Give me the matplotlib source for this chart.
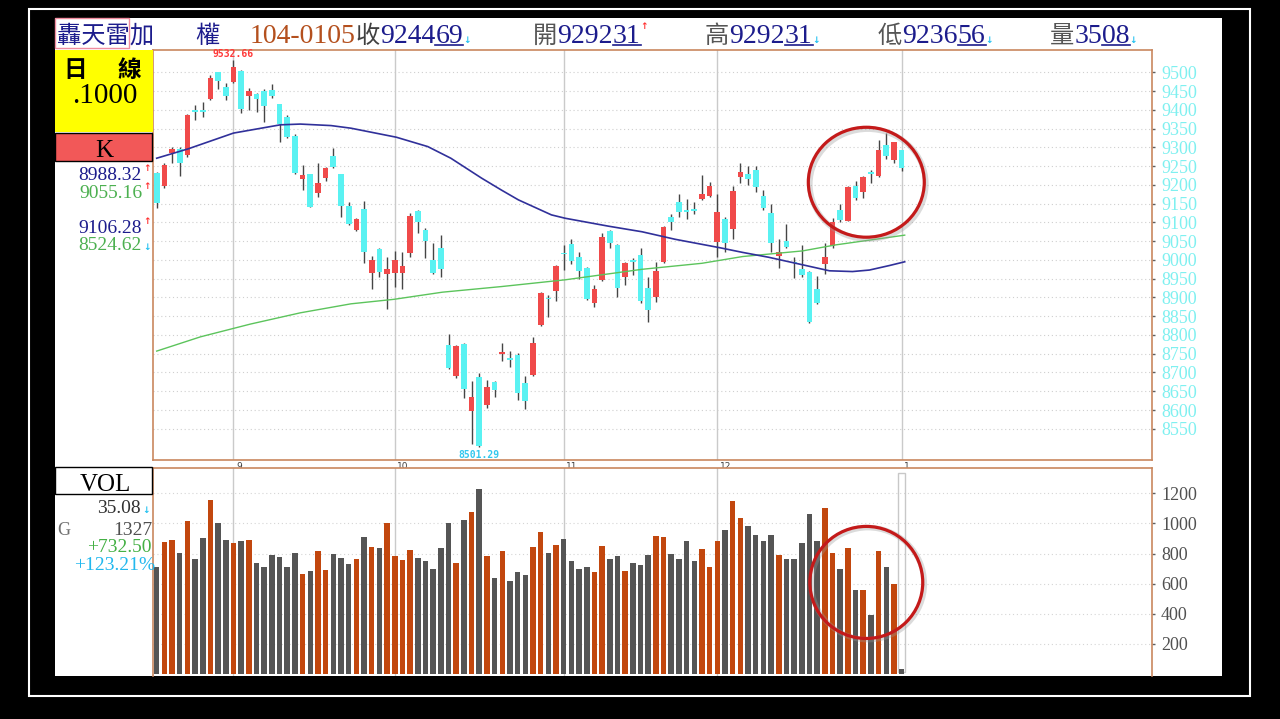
import matplotlib
matplotlib.use('Agg')
import matplotlib.pyplot as plt
from matplotlib.patches import Rectangle, Ellipse
from matplotlib.lines import Line2D
import numpy as np

# ---------------- data ----------------
opens = [9231, 9197, 9284, 9295, 9280, 9398, 9397, 9428, 9500, 9460,
         9475, 9503, 9437, 9442, 9451, 9453, 9415, 9382, 9330, 9215,
         9228, 9179, 9218, 9277, 9229, 9144, 9080, 9136, 8966, 9029,
         8962, 8966, 8966, 9018, 9130, 9080, 9000, 9031, 8773, 8691,
         8775, 8598, 8689, 8613, 8675, 8749, 8737, 8747, 8673, 8693,
         8827, 8898, 8917, 9018, 9042, 9009, 8978, 8886, 8946, 9077,
         9040, 8955, 8998, 9013, 8924, 8902, 8994, 9114, 9155, 9132,
         9134, 9162, 9170, 9049, 9109, 9082, 9222, 9228, 9240, 9170,
         9124, 9011, 9051, 8994, 8975, 8969, 8922, 8989, 9037, 9133,
         9105, 9197, 9180, 9232, 9224, 9306, 9266, 9292.31]
highs = [9235, 9258, 9302, 9300, 9388, 9413, 9422, 9493, 9502, 9472,
         9532.66, 9505, 9457, 9444, 9455, 9468, 9416, 9386, 9335, 9253,
         9230, 9259, 9248, 9297, 9230, 9155, 9112, 9158, 9010, 9032,
         9009, 9024, 9020, 9126, 9132, 9084, 9046, 9066, 8802, 8774,
         8778, 8677, 8698, 8680, 8677, 8779, 8758, 8753, 8691, 8794,
         8915, 8907, 8986, 9040, 9055, 9022, 8980, 8933, 9071, 9080,
         9042, 8995, 9006, 9033, 8954, 8995, 9090, 9122, 9176, 9162,
         9155, 9226, 9208, 9175, 9115, 9197, 9259, 9249, 9249, 9185,
         9148, 9055, 9095, 9007, 9040, 8970, 8957, 9044, 9111, 9148,
         9197, 9209, 9224, 9240, 9320, 9337, 9315, 9292.31]
lows = [9138, 9192, 9257, 9224, 9275, 9373, 9382, 9425, 9455, 9426,
        9472, 9391, 9400, 9395, 9368, 9431, 9315, 9325, 9228, 9186,
        9140, 9168, 9210, 9245, 9115, 9093, 9077, 8991, 8922, 8955,
        8868, 8927, 8922, 9009, 9072, 9004, 8963, 8955, 8708, 8684,
        8633, 8510, 8501.29, 8606, 8635, 8731, 8715, 8627, 8602, 8690,
        8825, 8849, 8891, 8973, 8988, 8948, 8893, 8874, 8944, 9031,
        8900, 8933, 8960, 8884, 8834, 8887, 8992, 9080, 9115, 9108,
        9122, 9160, 9168, 9009, 9020, 9055, 9204, 9200, 9182, 9133,
        9022, 8979, 9031, 8951, 8955, 8831, 8882, 8963, 9033, 9102,
        9103, 9160, 9166, 9206, 9222, 9268, 9259, 9236.56]
closes = [9151, 9253, 9296, 9259, 9386, 9395, 9396, 9486, 9478, 9437,
          9513, 9401, 9451, 9429, 9410, 9437, 9362, 9328, 9231, 9226,
          9142, 9204, 9246, 9247, 9144, 9095, 9109, 9020, 9000, 8969,
          8977, 9000, 8984, 9117, 9102, 9051, 8966, 8975, 8711, 8771,
          8655, 8634, 8505, 8662, 8653, 8754, 8734, 8645, 8625, 8778,
          8913, 8897, 8984, 9017, 8997, 8971, 8896, 8922, 9060, 9044,
          8926, 8991, 8996, 8891, 8867, 8971, 9088, 9102, 9128, 9130,
          9132, 9175, 9197, 9127, 9044, 9184, 9233, 9215, 9195, 9138,
          9044, 9021, 9035, 8993, 8960, 8834, 8884, 9009, 9102, 9106,
          9195, 9164, 9222, 9230, 9293, 9277, 9313, 9244.69]
volumes = [712, 874, 890, 806, 1016, 761, 901, 1155, 1005, 890,
           868, 883, 890, 735, 712, 790, 779, 712, 806, 664,
           686, 817, 691, 795, 772, 730, 766, 912, 841, 835,
           1005, 784, 757, 823, 768, 750, 697, 839, 1005, 735,
           1023, 1078, 1226, 784, 635, 817, 620, 675, 657, 841,
           943, 801, 857, 896, 750, 697, 708, 679, 850, 766,
           784, 686, 737, 726, 788, 918, 908, 795, 766, 881,
           750, 828, 708, 885, 954, 1151, 1038, 981, 925, 881,
           925, 788, 766, 761, 870, 1062, 881, 1100, 806, 695,
           839, 558, 558, 392, 817, 712, 598, 35.08]

ma_blue_x = [0, 4.1, 10, 16.1, 18.7, 22.7, 25.3, 31.2, 35.3, 38.3, 42.3, 44.9,
             47.1, 51.4, 53.2, 58.8, 63.2, 67.5, 73.2, 76.3, 79.7, 84.1, 87.6,
             90.6, 92.8, 95.4, 97.4]
ma_blue_y = [9271, 9296, 9338, 9360, 9362, 9358, 9351, 9327, 9302, 9271, 9218, 9186,
             9160, 9120, 9111, 9090, 9075, 9055, 9033, 9020, 9007, 8987, 8971,
             8969, 8973, 8985, 8995]
ma_green_x = [0, 5.7, 12.2, 18.7, 25.3, 30.9, 37.2, 44.9, 53.2, 63.2, 71, 76.3, 84.1, 88.4, 97.4]
ma_green_y = [8757, 8795, 8829, 8859, 8883, 8895, 8914, 8929, 8947, 8975, 8991, 9009, 9024, 9040, 9066]

month_idx = [10, 31, 53, 73, 97]
month_labels = ['9', '10', '11', '12', '1']
price_ticks = list(range(8550, 9501, 50))
vol_ticks = [200, 400, 600, 800, 1000, 1200]

# ---------------- figure ----------------
W, H = 1280, 719
fig = plt.figure(figsize=(12.8, 7.19), dpi=100, facecolor='black')


def fx(x):
    return x / W


def fy(y):
    return 1 - y / H


SERIF = ['Liberation Serif', 'Noto Sans CJK TC', 'DejaVu Sans']
CJK = ['Noto Sans CJK TC', 'DejaVu Sans']

# outer frame and white content area
fig.add_artist(Rectangle((fx(29), fy(696)), (1250 - 29) / W, (696 - 9) / H,
                         transform=fig.transFigure, fill=False, edgecolor='white',
                         lw=1.5, zorder=-20))
fig.add_artist(Rectangle((fx(55), fy(676)), (1222 - 55) / W, (676 - 18) / H,
                         transform=fig.transFigure, facecolor='white', edgecolor='none',
                         zorder=-10))

SPINE = '#C9875F'
n = len(opens)
idx = np.arange(n)
XLIM = (-0.48, 129.6)

# ---------------- price panel ----------------
ax = fig.add_axes([fx(153), fy(460), (1152 - 153) / W, (460 - 50) / H])
ax.set_facecolor('white')
ax.set_xlim(*XLIM)
ax.set_ylim(8466.8, 9559.4)
for s in ax.spines.values():
    s.set_color(SPINE)
    s.set_linewidth(1.2)
ax.set_xticks([])
ax.yaxis.tick_right()
ax.set_yticks(price_ticks)
ax.set_yticklabels([str(p) for p in price_ticks])
ax.tick_params(axis='y', color='#606060', labelcolor='#7FF0F0', length=2.5,
               width=1, pad=4, labelsize=13)
for lbl in ax.get_yticklabels():
    lbl.set_family(SERIF)
for p in price_ticks:
    ax.axhline(p, color='#CFCFCF', lw=0.8, ls=(0, (1, 2.5)), zorder=0.5)
for m in month_idx:
    ax.axvline(m, color='#CACACA', lw=1, zorder=0.6)

o = np.array(opens, float)
h = np.array(highs, float)
l = np.array(lows, float)
c = np.array(closes, float)
up = c >= o
RED = '#F04A4A'
CYAN = '#5AF2F2'
body_col = [RED if u else CYAN for u in up]
ax.vlines(idx, l, h, color='#454545', lw=1, zorder=2)
lo = np.minimum(o, c)
hi = np.maximum(o, c)
ht = np.maximum(hi - lo, 4)
ax.bar(idx, ht, bottom=lo - (ht - (hi - lo)) / 2, width=0.74, color=body_col,
       edgecolor='none', zorder=3)

ax.plot(ma_green_x, ma_green_y, color='#5CC45C', lw=1.0, zorder=4)
ax.plot(ma_blue_x, ma_blue_y, color='#30309A', lw=1.2, zorder=4)

imax = int(np.argmax(h))
imin = int(np.argmin(l))
ax.annotate(f'{h[imax]:.2f}', (imax, h[imax]), xytext=(0, 1), textcoords='offset points',
            ha='center', va='bottom', fontsize=7, color='#FF3A3A',
            family='DejaVu Sans Mono', fontweight='bold', annotation_clip=False)
ax.annotate(f'{l[imin]:.2f}', (imin, l[imin]), xytext=(0, -2), textcoords='offset points',
            ha='center', va='top', fontsize=7, color='#33C8EE',
            family='DejaVu Sans Mono', fontweight='bold', annotation_clip=False)

# month labels in the strip under the price panel
for m, lab in zip(month_idx, month_labels):
    ax.text(m + 0.35, -0.004, lab, transform=ax.get_xaxis_transform(), ha='left',
            va='top', fontsize=6.5, color='#404040', family='DejaVu Sans', clip_on=False)

# highlight circle
ax.add_patch(Ellipse((92.6, 9202), 15.1, 293, transform=ax.transData, fill=False,
                     edgecolor='#999999', lw=4, alpha=0.35, zorder=5, clip_on=False))
ax.add_patch(Ellipse((92.4, 9207), 15.1, 293, fill=False, edgecolor='#C41A1A',
                     lw=2.3, zorder=6, clip_on=False))

# ---------------- volume panel ----------------
axv = fig.add_axes([fx(153), fy(676), (1152 - 153) / W, (676 - 468) / H])
axv.set_facecolor('white')
axv.set_xlim(*XLIM)
axv.set_ylim(-13.3, 1367.9)
for k, s in axv.spines.items():
    s.set_color(SPINE)
    s.set_linewidth(1.2)
axv.spines['bottom'].set_visible(False)
axv.set_xticks([])
axv.yaxis.tick_right()
axv.set_yticks(vol_ticks)
axv.set_yticklabels([str(v) for v in vol_ticks])
axv.tick_params(axis='y', color='#606060', labelcolor='#505050', length=2.5,
                width=1, pad=4, labelsize=13)
for lbl in axv.get_yticklabels():
    lbl.set_family(SERIF)
for v in vol_ticks:
    axv.axhline(v, color='#D5D5D5', lw=0.8, ls=(0, (1, 2.5)), zorder=0.5)
for m in month_idx[:-1]:
    axv.axvline(m, color='#CACACA', lw=1, zorder=0.6)
axv.add_patch(Rectangle((n - 1 - 0.42, 12), 0.84, 1320, fill=False,
                        edgecolor='#C8C8C8', lw=1, zorder=0.7))
vcol = ['#C2470E' if u else '#555555' for u in up]
axv.bar(idx, volumes, width=0.72, color=vcol, edgecolor='none', zorder=3)
axv.add_patch(Ellipse((92.6, 600), 14.7, 744, fill=False, edgecolor='#999999',
                      lw=4, alpha=0.35, zorder=5, clip_on=False))
axv.add_patch(Ellipse((92.4, 608), 14.7, 744, fill=False, edgecolor='#C41A1A',
                      lw=2.3, zorder=6, clip_on=False))

# ---------------- left panel ----------------
fig.add_artist(Rectangle((fx(55), fy(132)), 98 / W, 82 / H, transform=fig.transFigure,
                         facecolor='#FFFF00', edgecolor='none', zorder=1))
fig.add_artist(Rectangle((fx(55), fy(161)), 97 / W, 28 / H, transform=fig.transFigure,
                         facecolor='#F25858', edgecolor='black', lw=1, zorder=1))
fig.add_artist(Rectangle((fx(55), fy(494)), 97 / W, 27 / H, transform=fig.transFigure,
                         facecolor='white', edgecolor='black', lw=1, zorder=1))
fig.text(fx(63), fy(77), '日', family=CJK, fontsize=17, fontweight='bold', color='black',
         va='baseline', ha='left')
fig.text(fx(117), fy(77), '線', family=CJK, fontsize=17, fontweight='bold', color='black',
         va='baseline', ha='left')
fig.text(fx(105), fy(103), '.1000', family=SERIF, fontsize=21, color='black',
         va='baseline', ha='center')
fig.text(fx(104), fy(157), 'K', family=SERIF, fontsize=18, color='black',
         va='baseline', ha='center')
fig.text(fx(105), fy(491), 'VOL', family=SERIF, fontsize=18, color='black',
         va='baseline', ha='center')

ma_texts = [('8988.32', '#1C1C8C', 180, '↑', '#FF3030'),
            ('9055.16', '#4CB050', 198, '↑', '#FF3030'),
            ('9106.28', '#1C1C8C', 233, '↑', '#FF3030'),
            ('8524.62', '#4CB050', 250, '↓', '#20C0F0')]
for s, col, yb, arr, acol in ma_texts:
    fig.text(fx(142), fy(yb), s, family=SERIF, fontsize=14, color=col,
             va='baseline', ha='right')
    fig.text(fx(143.5), fy(yb - 9 if arr == '↑' else yb), arr, family='DejaVu Sans',
             fontsize=6.5, color=acol, va='baseline', ha='left', fontweight='bold')

fig.text(fx(141), fy(513), '35.08', family=SERIF, fontsize=14, color='#303030',
         va='baseline', ha='right')
fig.text(fx(142.5), fy(513), '↓', family='DejaVu Sans', fontsize=6.5, color='#20C0F0',
         va='baseline', ha='left', fontweight='bold')
fig.text(fx(57), fy(535), 'G', family=SERIF, fontsize=13, color='#707070',
         va='baseline', ha='left')
fig.text(fx(152), fy(535), '1327', family=SERIF, fontsize=14, color='#505050',
         va='baseline', ha='right')
fig.text(fx(152), fy(552), '+732.50', family=SERIF, fontsize=14, color='#44B044',
         va='baseline', ha='right')
fig.text(fx(155), fy(570), '+123.21%', family=SERIF, fontsize=14, color='#22B8EE',
         va='baseline', ha='right')

# ---------------- header ----------------
renderer = fig.canvas.get_renderer()
NAVY = '#1C1C8C'
BASE = 43


def seq(x, parts):
    for s, col, fam, size, under in parts:
        yb = BASE
        if s == '↑':
            yb = BASE - 14
        t = fig.text(fx(x), fy(yb), s, family=fam, fontsize=size, color=col,
                     va='baseline', ha='left',
                     fontweight='bold' if s in ('↑', '↓') else 'normal')
        bb = t.get_window_extent(renderer)
        if under:
            fig.add_artist(Line2D([bb.x0 / W, bb.x1 / W], [fy(BASE + 2)] * 2,
                                  transform=fig.transFigure, color=NAVY, lw=1.2))
        x += bb.width


fig.add_artist(Rectangle((fx(55), fy(48)), 74 / W, 30 / H, transform=fig.transFigure,
                         fill=False, edgecolor='#F08CA0', lw=1, zorder=2))
seq(57, [('轟天雷加', NAVY, CJK, 17.5, False)])
seq(195, [('權', NAVY, CJK, 17.5, False)])
seq(250, [('104-0105', '#B4501E', SERIF, 20, False), ('收', '#404040', CJK, 17.5, False),
          ('9244', NAVY, SERIF, 20, False), ('69', NAVY, SERIF, 20, True),
          ('↓', '#20C0F0', 'DejaVu Sans', 6.5, False)])
seq(533, [('開', '#555555', CJK, 17.5, False), ('9292', NAVY, SERIF, 20, False),
          ('31', NAVY, SERIF, 20, True), ('↑', '#FF3030', 'DejaVu Sans', 6.5, False)])
seq(705, [('高', '#555555', CJK, 17.5, False), ('9292', NAVY, SERIF, 20, False),
          ('31', NAVY, SERIF, 20, True), ('↓', '#20C0F0', 'DejaVu Sans', 6.5, False)])
seq(878, [('低', '#555555', CJK, 17.5, False), ('9236', NAVY, SERIF, 20, False),
          ('56', NAVY, SERIF, 20, True), ('↓', '#20C0F0', 'DejaVu Sans', 6.5, False)])
seq(1050, [('量', '#555555', CJK, 17.5, False), ('35', NAVY, SERIF, 20, False),
           ('08', NAVY, SERIF, 20, True), ('↓', '#20C0F0', 'DejaVu Sans', 6.5, False)])

fig.savefig('out.png', dpi=100, facecolor='black')
